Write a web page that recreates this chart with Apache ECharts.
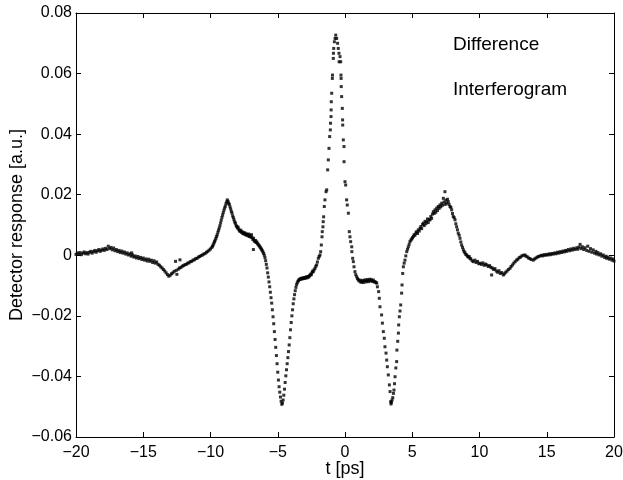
<!DOCTYPE html>
<html>
<head>
<meta charset="utf-8">
<script src="https://cdn.jsdelivr.net/npm/echarts@6/dist/echarts.min.js"></script>
<style>
  html, body { margin: 0; padding: 0; background: #fff; }
  #chart { width: 623px; height: 480px; }
</style>
</head>
<body>
<div id="chart"></div>
<script>
// ---------------------------------------------------
// Datos: [t (ps), respuesta (a.u.)]
// ---------------------------------------------------
const leftWing = [
  [-20.0,0.0003],[-19.9,0.0008],[-19.8,0.0004],[-19.7,0.0009],[-19.6,0.0002],[-19.5,0.0007],[-19.4,0.0011],[-19.3,0.0005],
  [-19.2,0.0009],[-19.1,0.0004],[-19.0,0.0010],[-18.9,0.0013],[-18.8,0.0007],[-18.7,0.0012],[-18.6,0.0016],[-18.5,0.0010],
  [-18.4,0.0015],[-18.3,0.0019],[-18.2,0.0013],[-18.1,0.0017],[-18.0,0.0021],[-17.9,0.0016],[-17.8,0.0023],[-17.7,0.0019],
  [-17.6,0.0030],[-17.5,0.0022],[-17.4,0.0026],[-17.3,0.0018],[-17.2,0.0024],[-17.1,0.0015],[-17.0,0.0019],[-16.9,0.0012],
  [-16.8,0.0016],[-16.7,0.0009],[-16.6,0.0014],[-16.5,0.0007],[-16.4,0.0011],[-16.3,0.0004],[-16.2,0.0008],[-16.1,0.0001],
  [-16.0,0.0005],[-15.9,-0.0003],[-15.86,0.0008],[-15.8,0.0001],[-15.7,-0.0006],[-15.6,-0.0002],[-15.5,-0.0009],[-15.4,-0.0004],
  [-15.3,-0.0011],[-15.2,-0.0007],[-15.1,-0.0014],[-15.0,-0.0009],[-14.9,-0.0016],[-14.8,-0.0012],[-14.7,-0.0019],[-14.6,-0.0013],
  [-14.5,-0.0020],[-14.4,-0.0016],[-14.3,-0.0024],[-14.2,-0.0018],[-14.1,-0.0026],[-14.0,-0.0022],[-13.9,-0.0030],[-13.8,-0.0033],
  [-13.7,-0.0038],[-13.6,-0.0042],[-13.5,-0.0047],[-13.4,-0.0052],[-13.3,-0.0058],[-13.2,-0.0064],[-13.1,-0.0069],[-13.0,-0.0066],
  [-12.9,-0.0061],[-12.8,-0.0058],[-12.7,-0.0053],[-12.6,-0.0020],[-12.55,-0.0050],[-12.5,-0.0063],[-12.4,-0.0046],[-12.3,-0.0042],
  [-12.27,-0.0015],[-12.2,-0.0040],[-12.1,-0.0036],[-12.0,-0.0034],[-11.9,-0.0031],[-11.8,-0.0030],[-11.7,-0.0026],[-11.6,-0.0025],
  [-11.5,-0.0021],[-11.4,-0.0020],[-11.3,-0.0016],[-11.2,-0.0015],[-11.1,-0.0011],[-11.0,-0.0010],[-10.9,-0.0006],[-10.8,-0.0004],
  [-10.7,-0.0001],[-10.6,0.0001],[-10.5,0.0004],[-10.4,0.0006],[-10.3,0.0010],[-10.2,0.0013],[-10.1,0.0017],[-10.0,0.0021]
];

const leftPeak = [
  [-9.9,0.0026],[-9.85,0.0030],[-9.8,0.0034],[-9.75,0.0040],[-9.7,0.0045],[-9.65,0.0050],[-9.6,0.0056],[-9.55,0.0062],
  [-9.5,0.0068],[-9.45,0.0076],[-9.4,0.0083],[-9.35,0.0090],[-9.3,0.0098],[-9.25,0.0107],[-9.2,0.0116],[-9.15,0.0125],
  [-9.1,0.0133],[-9.05,0.0141],[-9.0,0.0149],[-8.95,0.0156],[-8.9,0.0162],[-8.85,0.0170],[-8.8,0.0176],[-8.75,0.0183],
  [-8.7,0.0178],[-8.65,0.0172],[-8.6,0.0168],[-8.55,0.0160],[-8.5,0.0153],[-8.45,0.0145],[-8.4,0.0139],[-8.35,0.0130],
  [-8.3,0.0124],[-8.25,0.0117],[-8.2,0.0110],[-8.15,0.0106],[-8.1,0.0099],[-8.05,0.0095],[-8.0,0.0090],[-7.95,0.0093],
  [-7.9,0.0086],[-7.85,0.0081],[-7.8,0.0079],[-7.75,0.0083],[-7.7,0.0076],[-7.65,0.0078],[-7.6,0.0072],[-7.55,0.0075],
  [-7.5,0.0070],[-7.45,0.0074],[-7.4,0.0068],[-7.35,0.0071],[-7.3,0.0066],[-7.25,0.0069],[-7.2,0.0064],[-7.15,0.0070],
  [-7.1,0.0062],[-7.05,0.0065],[-7.0,0.0060],[-6.95,0.0068],[-6.9,0.0058],[-6.85,0.0052],[-6.81,0.0019],[-6.8,0.0056],
  [-6.75,0.0048],[-6.7,0.0045],[-6.65,0.0049],[-6.6,0.0042],[-6.55,0.0044],[-6.5,0.0038],[-6.45,0.0036],[-6.4,0.0032],
  [-6.35,0.0030],[-6.3,0.0026],[-6.25,0.0023],[-6.2,0.0019],[-6.15,0.0015],[-6.1,0.0011],[-6.05,0.0006],[-6.0,0.0000],
  [-5.95,-0.0008]
];

const leftDip = [
  [-5.9,-0.0018],[-5.85,-0.0030],[-5.8,-0.0042],[-5.75,-0.0058],[-5.7,-0.0072],[-5.65,-0.0088],[-5.6,-0.0104],[-5.55,-0.0122],
  [-5.5,-0.0140],[-5.45,-0.0158],[-5.4,-0.0180],[-5.35,-0.0203],[-5.3,-0.0226],[-5.25,-0.0252],[-5.2,-0.0278],[-5.15,-0.0304],
  [-5.1,-0.0331],[-5.05,-0.0358],[-5.0,-0.0386],[-4.95,-0.0412],[-4.9,-0.0434],[-4.85,-0.0452],[-4.8,-0.0468],[-4.75,-0.0482],
  [-4.7,-0.0492],[-4.65,-0.0488],[-4.6,-0.0478],[-4.55,-0.0462],[-4.5,-0.0442],[-4.45,-0.0420],[-4.4,-0.0398],[-4.35,-0.0378],
  [-4.3,-0.0358],[-4.25,-0.0338],[-4.2,-0.0318],[-4.15,-0.0296],[-4.1,-0.0272],[-4.05,-0.0246],[-4.0,-0.0222],[-3.95,-0.0200],
  [-3.9,-0.0180],[-3.85,-0.0160],[-3.8,-0.0144],[-3.75,-0.0130],[-3.7,-0.0117],[-3.65,-0.0106],[-3.6,-0.0097],[-3.55,-0.0091],
  [-3.5,-0.0086],[-3.45,-0.0083],[-3.4,-0.0080],[-3.35,-0.0078],[-3.3,-0.0079],[-3.25,-0.0076],[-3.2,-0.0078],[-3.15,-0.0075],
  [-3.1,-0.0077],[-3.05,-0.0074],[-3.0,-0.0076],[-2.95,-0.0073],[-2.9,-0.0075],[-2.85,-0.0071],[-2.8,-0.0074],[-2.75,-0.0070],
  [-2.7,-0.0072],[-2.65,-0.0068],[-2.6,-0.0066],[-2.55,-0.0062],[-2.5,-0.0064],[-2.45,-0.0057],[-2.4,-0.0052]
];

const centralPeak = [
  [-2.36,-0.0054],[-2.3,-0.0048],[-2.23,-0.0043],[-2.17,-0.0036],[-2.11,-0.0032],[-2.05,-0.0022],[-1.98,-0.0010],[-1.92,-0.0004],
  [-1.86,0.0001],[-1.81,0.0012],[-1.76,0.0034],[-1.71,0.0061],[-1.69,0.0078],[-1.64,0.0094],[-1.62,0.0111],[-1.59,0.0127],
  [-1.54,0.0161],[-1.49,0.0183],[-1.41,0.0210],[-1.36,0.0216],[-1.29,0.0282],[-1.24,0.0315],[-1.19,0.0353],[-1.14,0.0392],
  [-1.09,0.0414],[-1.08,0.0436],[-1.04,0.0458],[-1.03,0.0480],[-1.02,0.0507],[-0.99,0.0535],[-0.94,0.0584],[-0.93,0.0595],
  [-0.87,0.0650],[-0.86,0.0667],[-0.84,0.0683],[-0.79,0.0705],[-0.74,0.0716],[-0.69,0.0727],[-0.62,0.0716],[-0.55,0.0700],
  [-0.50,0.0683],[-0.45,0.0667],[-0.37,0.0656],[-0.44,0.0639],[-0.32,0.0639],[-0.30,0.0595],[-0.29,0.0584],[-0.28,0.0557],
  [-0.25,0.0524],[-0.20,0.0485],[-0.18,0.0447],[-0.17,0.0430],[-0.125,0.0381],[-0.075,0.0359],[-0.07,0.0309],[0.0,0.0243],
  [0.05,0.0232],[0.12,0.0183],[0.17,0.0166],[0.25,0.0139],[0.32,0.0078],[0.37,0.0061],[0.42,0.0045],[0.50,0.0028],
  [0.51,0.0012],[0.57,-0.0010],[0.62,-0.0021],[0.67,-0.0038],[0.74,-0.0054],[0.80,-0.0064],[0.87,-0.0071],[0.93,-0.0077],
  [0.99,-0.0081],[1.05,-0.0085],[1.11,-0.0082],[1.18,-0.0089],[1.24,-0.0087],[1.30,-0.0083],[1.36,-0.0090],[1.43,-0.0085],
  [1.49,-0.0081],[1.55,-0.0088],[1.62,-0.0084],[1.68,-0.0080],[1.74,-0.0087],[1.80,-0.0083],[1.86,-0.0079],[1.92,-0.0085],
  [1.98,-0.0081],[2.05,-0.0086],[2.11,-0.0082],[2.17,-0.0088],[2.23,-0.0087],[2.30,-0.0090],[2.36,-0.0092],[2.41,-0.0104],
  [2.50,-0.0120],[2.55,-0.0142],[2.60,-0.0170],[2.72,-0.0197],[2.78,-0.0224],[2.85,-0.0252],[2.92,-0.0274],[2.97,-0.0302],
  [3.05,-0.0323],[3.10,-0.0346],[3.15,-0.0368],[3.22,-0.0395],[3.30,-0.0428],[3.35,-0.0450],[3.40,-0.0483]
];

const rightDip = [
  [3.42,-0.0491],[3.45,-0.0486],[3.5,-0.0478],[3.55,-0.0470],[3.6,-0.0456],[3.64,-0.0445],[3.68,-0.0424],[3.72,-0.0401],
  [3.78,-0.0372],[3.84,-0.0351],[3.86,-0.0313],[3.92,-0.0284],[3.97,-0.0257],[3.99,-0.0230],[4.04,-0.0203],[4.09,-0.0184],
  [4.14,-0.0164],[4.21,-0.0125],[4.24,-0.0098],[4.29,-0.0060],[4.34,-0.0038],[4.40,-0.0026],[4.46,-0.0016],[4.52,-0.0002],
  [4.59,0.0012],[4.65,0.0020],[4.71,0.0028],[4.77,0.0036],[4.83,0.0045],[4.90,0.0050],[4.96,0.0054],[5.02,0.0058],
  [5.08,0.0062],[5.14,0.0068],[5.20,0.0066],[5.27,0.0074],[5.33,0.0078],[5.39,0.0072],[5.45,0.0084],[5.52,0.0080],
  [5.58,0.0089],[5.64,0.0095],[5.70,0.0088],[5.77,0.0102],[5.83,0.0106],[5.89,0.0098],[5.95,0.0112],[6.01,0.0104],
  [6.07,0.0111],[6.13,0.0120],[6.19,0.0108],[6.26,0.0118],[6.32,0.0117],[6.38,0.0128],[6.44,0.0122],[6.50,0.0136],
  [6.57,0.0144],[6.63,0.0138],[6.69,0.0150],[6.75,0.0142],[6.82,0.0156],[6.88,0.0148],[6.94,0.0161],[7.00,0.0155],
  [7.06,0.0166],[7.12,0.0160],[7.19,0.0172],[7.25,0.0165],[7.31,0.0188],[7.37,0.0176],[7.43,0.0210],[7.45,0.0168],
  [7.50,0.0182],[7.56,0.0172],[7.62,0.0185],[7.68,0.0177],[7.74,0.0168],[7.81,0.0161],[7.87,0.0158],[7.93,0.0150],
  [7.99,0.0138],[8.05,0.0128],[8.12,0.0124],[8.18,0.0117],[8.24,0.0104],[8.30,0.0094],[8.36,0.0084],[8.42,0.0073],
  [8.49,0.0066],[8.55,0.0056],[8.61,0.0044],[8.67,0.0034],[8.74,0.0026],[8.80,0.0018],[8.86,0.0012],[8.92,0.0008],
  [8.98,0.0003],[9.05,0.0001],[9.11,-0.0003],[9.17,-0.0006],[9.23,-0.0004],[9.29,-0.0010]
];

const rightWing = [
  [9.35,-0.0012],[9.45,-0.0018],[9.54,-0.0021],[9.65,-0.0016],[9.75,-0.0024],[9.85,-0.0020],[9.95,-0.0028],[10.04,-0.0026],
  [10.15,-0.0030],[10.25,-0.0025],[10.35,-0.0033],[10.45,-0.0029],[10.54,-0.0032],[10.65,-0.0037],[10.75,-0.0034],[10.85,-0.0040],
  [10.9,-0.0065],[10.95,-0.0042],[11.05,-0.0047],[11.15,-0.0044],[11.25,-0.0052],[11.35,-0.0056],[11.45,-0.0051],[11.55,-0.0060],
  [11.65,-0.0057],[11.77,-0.0065],[11.85,-0.0061],[11.95,-0.0056],[12.05,-0.0052],[12.15,-0.0047],[12.27,-0.0043],[12.35,-0.0037],
  [12.45,-0.0032],[12.55,-0.0026],[12.65,-0.0021],[12.76,-0.0016],[12.85,-0.0013],[12.95,-0.0008],[13.05,-0.0006],[13.15,-0.0002],
  [13.25,0.0000],[13.38,0.0001],[13.45,-0.0003],[13.55,-0.0005],[13.65,-0.0009],[13.75,-0.0011],[13.85,-0.0014],[14.0,-0.0016],
  [14.1,-0.0012],[14.2,-0.0009],[14.3,-0.0006],[14.4,-0.0004],[14.5,-0.0002],[14.62,0.0000],[14.7,-0.0002],[14.8,0.0002],
  [14.9,0.0000],[15.0,0.0003],[15.1,0.0001],[15.2,0.0005],[15.3,0.0002],[15.4,0.0006],[15.49,0.0004],[15.6,0.0008],
  [15.7,0.0005],[15.8,0.0010],[15.9,0.0007],[16.0,0.0012],[16.1,0.0009],[16.2,0.0014],[16.3,0.0011],[16.4,0.0016],
  [16.48,0.0013],[16.6,0.0019],[16.7,0.0015],[16.8,0.0021],[16.9,0.0017],[17.0,0.0023],[17.1,0.0019],[17.23,0.0025],
  [17.3,0.0020],[17.4,0.0027],[17.48,0.0036],[17.55,0.0022],[17.65,0.0028],[17.75,0.0019],[17.85,0.0025],[17.97,0.0016],
  [18.05,0.0030],[18.15,0.0013],[18.25,0.0022],[18.35,0.0010],[18.45,0.0018],[18.55,0.0007],[18.65,0.0013],[18.71,0.0004],
  [18.8,0.0009],[18.9,0.0001],[19.0,0.0005],[19.1,-0.0003],[19.2,0.0001],[19.3,-0.0007],[19.4,-0.0003],[19.46,-0.0010],
  [19.55,-0.0006],[19.65,-0.0013],[19.75,-0.0009],[19.85,-0.0016],[19.95,-0.0012],[20.0,-0.0019]
];

const xTicks = { min: -20, max: 20, interval: 5 };
const yTicks = { min: -0.06, max: 0.08, interval: 0.02 };
const notes = ['Difference', 'Interferogram'];

const points = [].concat(leftWing, leftPeak, leftDip, centralPeak, rightDip, rightWing);

// ---------------------------------------------------
// Formato de etiquetas estilo MATLAB (signo menos largo)
// ---------------------------------------------------
const fmtX = v => String(Math.round(v)).replace('-', '\u2212');
const fmtY = v => Math.abs(v) < 1e-9 ? '0' : v.toFixed(2).replace('-', '\u2212');

const FONT = 'Liberation Sans, Arial, Helvetica, sans-serif';
const axisLine = { show: true, onZero: false, lineStyle: { color: '#000', width: 1 } };
const axisTick = { show: true, inside: true, length: 5, lineStyle: { color: '#000', width: 1 } };

const chart = echarts.init(document.getElementById('chart'), null, { renderer: 'canvas' });

const option = {
  animation: false,
  backgroundColor: '#fff',
  grid: { left: 76, right: 9, top: 13, bottom: 43, outerBoundsMode: 'none', containLabel: false },
  xAxis: [
    {
      type: 'value', position: 'bottom',
      min: xTicks.min, max: xTicks.max, interval: xTicks.interval,
      axisLine: axisLine, axisTick: axisTick, splitLine: { show: false },
      axisLabel: { color: '#000', fontSize: 16, fontFamily: FONT, margin: 8, formatter: fmtX },
      name: 't [ps]', nameLocation: 'middle', nameGap: 23, nameMoveOverlap: false,
      nameTextStyle: { color: '#000', fontSize: 18, fontFamily: FONT }
    },
    {
      type: 'value', position: 'top',
      min: xTicks.min, max: xTicks.max, interval: xTicks.interval,
      axisLine: axisLine, axisTick: axisTick, splitLine: { show: false },
      axisLabel: { show: false }
    }
  ],
  yAxis: [
    {
      type: 'value', position: 'left',
      min: yTicks.min, max: yTicks.max, interval: yTicks.interval,
      axisLine: axisLine, axisTick: axisTick, splitLine: { show: false },
      axisLabel: { color: '#000', fontSize: 16, fontFamily: FONT, margin: 4, formatter: fmtY },
      name: 'Detector response [a.u.]', nameLocation: 'middle', nameGap: 50, nameMoveOverlap: false,
      nameTextStyle: { color: '#000', fontSize: 18, fontFamily: FONT }
    },
    {
      type: 'value', position: 'right',
      min: yTicks.min, max: yTicks.max, interval: yTicks.interval,
      axisLine: axisLine, axisTick: axisTick, splitLine: { show: false },
      axisLabel: { show: false }
    }
  ],
  graphic: [
    { type: 'text', left: 453, top: 35, style: { text: notes[0], fill: '#000', font: '19px ' + FONT } },
    { type: 'text', left: 453, top: 80, style: { text: notes[1], fill: '#000', font: '19px ' + FONT } }
  ],
  series: [
    {
      type: 'scatter',
      xAxisIndex: 0, yAxisIndex: 0,
      data: points,
      symbol: 'rect',
      symbolSize: 3,
      itemStyle: { color: '#000' },
      silent: true
    }
  ]
};

chart.setOption(option);
</script>
</body>
</html>
